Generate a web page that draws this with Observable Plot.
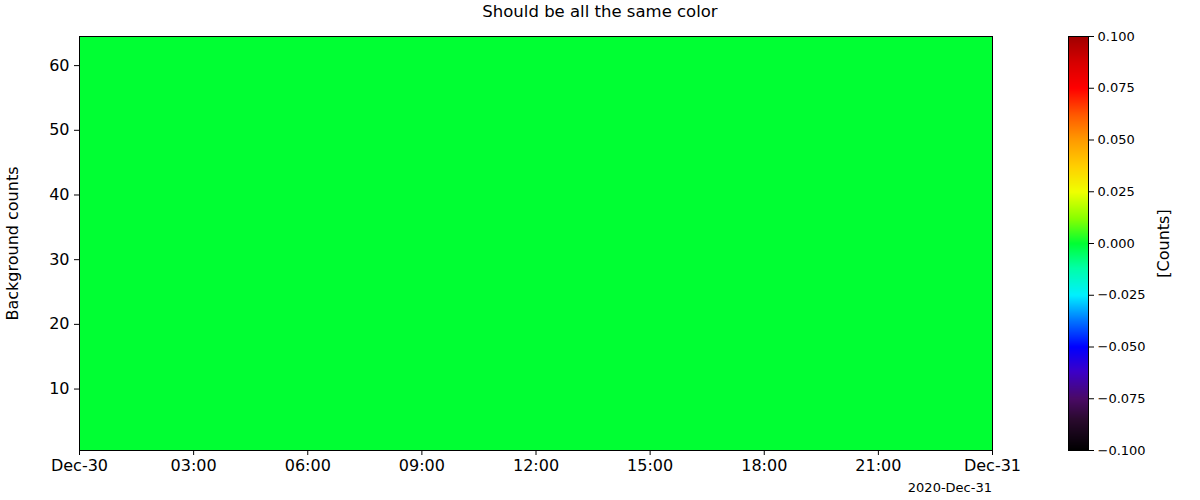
<!DOCTYPE html>
<html>
<head>
<meta charset="utf-8">
<script src="https://cdn.jsdelivr.net/npm/d3@7"></script>
<script src="https://cdn.jsdelivr.net/npm/@observablehq/plot@0.6"></script>
<style>
  html, body { margin: 0; padding: 0; background: #fff; }
  #wrap { position: relative; width: 1200px; height: 500px; font-family: "DejaVu Sans", sans-serif; }
  #wrap svg { position: absolute; top: 0; font-family: "DejaVu Sans", sans-serif; }
  .title { position: absolute; left: 0; width: 1200px; top: 2px; text-align: center; font-size: 16.5px; color: #000; }
  .date { position: absolute; right: 208px; top: 480px; font-size: 13px; color: #000; }
</style>
</head>
<body>
<div id="wrap">
  <div class="title">Should be all the same color</div>
  <div class="date">2020-Dec-31</div>
</div>
<script>
// ---- data ----
const hours = [
  "2020-12-30T00:00Z","2020-12-30T01:00Z","2020-12-30T02:00Z","2020-12-30T03:00Z",
  "2020-12-30T04:00Z","2020-12-30T05:00Z","2020-12-30T06:00Z","2020-12-30T07:00Z",
  "2020-12-30T08:00Z","2020-12-30T09:00Z","2020-12-30T10:00Z","2020-12-30T11:00Z",
  "2020-12-30T12:00Z","2020-12-30T13:00Z","2020-12-30T14:00Z","2020-12-30T15:00Z",
  "2020-12-30T16:00Z","2020-12-30T17:00Z","2020-12-30T18:00Z","2020-12-30T19:00Z",
  "2020-12-30T20:00Z","2020-12-30T21:00Z","2020-12-30T22:00Z","2020-12-30T23:00Z"
];
const channels = [
  1,2,3,4,5,6,7,8,9,10,11,12,13,14,15,16,17,18,19,20,21,22,23,24,25,26,27,28,29,30,31,32,
  33,34,35,36,37,38,39,40,41,42,43,44,45,46,47,48,49,50,51,52,53,54,55,56,57,58,59,60,61,62,63,64
];
const counts = [0,0,0,0,0,0,0,0,0,0,0,0,0,0,0,0,0,0,0,0,0,0,0,0];
const xTickTimes = [
  "2020-12-30T00:00Z","2020-12-30T03:00Z","2020-12-30T06:00Z","2020-12-30T09:00Z",
  "2020-12-30T12:00Z","2020-12-30T15:00Z","2020-12-30T18:00Z","2020-12-30T21:00Z","2020-12-31T00:00Z"
];
const xTickLabels = ["Dec-30","03:00","06:00","09:00","12:00","15:00","18:00","21:00","Dec-31"];
const yTicks = [10, 20, 30, 40, 50, 60];
const cbTicks = [-0.1, -0.075, -0.05, -0.025, 0, 0.025, 0.05, 0.075, 0.1];
const cmapStops = [-0.1, -0.085, -0.075, -0.062, -0.05, -0.037, -0.025, -0.012, 0, 0.012, 0.025, 0.037, 0.05, 0.062, 0.075, 0.087, 0.1];
const cmapColors = ["#000000","#2a0a2e","#4a0a66","#3c00c8","#0000ff","#0078ff","#00f0ff","#00ffa8","#00ff33","#88ff00","#f0ff00","#ffd000","#ff9a00","#ff5a00","#ff0000","#d80000","#a00000"];

// ---- build table ----
const cells = [];
hours.forEach((h, i) => {
  const t0 = new Date(h);
  const t1 = new Date(+t0 + 3600e3);
  channels.forEach(c => cells.push({t0, t1, lo: c - 0.5, hi: c + 0.5, v: counts[i]}));
});
const tickDates = xTickTimes.map(d => new Date(d));
const tickLabelMap = new Map(tickDates.map((d, i) => [+d, xTickLabels[i]]));
const yDomain = [channels[0] - 0.5, channels[channels.length - 1] + 0.5];
const colorSpec = {type: "linear", domain: cmapStops, range: cmapColors, interpolate: "rgb", clamp: true};

const main = Plot.plot({
  width: 1200, height: 500,
  marginLeft: 79, marginRight: 208, marginTop: 36, marginBottom: 50,
  style: {fontSize: "16px", fontFamily: "DejaVu Sans", color: "#000", background: "transparent", overflow: "visible"},
  x: {type: "utc", domain: [tickDates[0], tickDates[tickDates.length - 1]], ticks: tickDates,
      tickFormat: d => tickLabelMap.get(+d), tickSize: 5, tickPadding: 4, label: null},
  y: {domain: yDomain, ticks: yTicks, tickSize: 5, tickPadding: 5, label: null},
  color: colorSpec,
  marks: [
    Plot.rect(cells, {x1: "t0", x2: "t1", y1: "lo", y2: "hi", fill: "v", shapeRendering: "crispEdges", stroke: "v", strokeWidth: 0.5}),
    Plot.frame({stroke: "#000", strokeWidth: 1}),
    Plot.text(["Background counts"], {frameAnchor: "left", dx: -67, rotate: -90, textAnchor: "middle", fontSize: 16, fill: "#000"})
  ]
});
main.style.left = "0px";
document.getElementById("wrap").appendChild(main);

const cb = Plot.plot({
  width: 200, height: 500,
  marginLeft: 68, marginRight: 112, marginTop: 36, marginBottom: 50,
  style: {fontSize: "13px", fontFamily: "DejaVu Sans", color: "#000", background: "transparent"},
  x: {domain: [0, 1], axis: null},
  y: {domain: [cbTicks[0], cbTicks[cbTicks.length - 1]], ticks: cbTicks, tickFormat: ".3f",
      axis: "right", tickSize: 5, tickPadding: 4, label: null},
  color: colorSpec,
  marks: [
    Plot.raster({x1: 0, x2: 1, y1: cbTicks[0], y2: cbTicks[cbTicks.length - 1], width: 1, height: 414,
                 fill: (x, y) => y, imageRendering: "auto"}),
    Plot.frame({stroke: "#000", strokeWidth: 1}),
    Plot.text(["[Counts]"], {frameAnchor: "right", dx: 75, rotate: -90, textAnchor: "middle", fontSize: 16, fill: "#000"})
  ]
});
cb.style.left = "1000px";
document.getElementById("wrap").appendChild(cb);
</script>
</body>
</html>
